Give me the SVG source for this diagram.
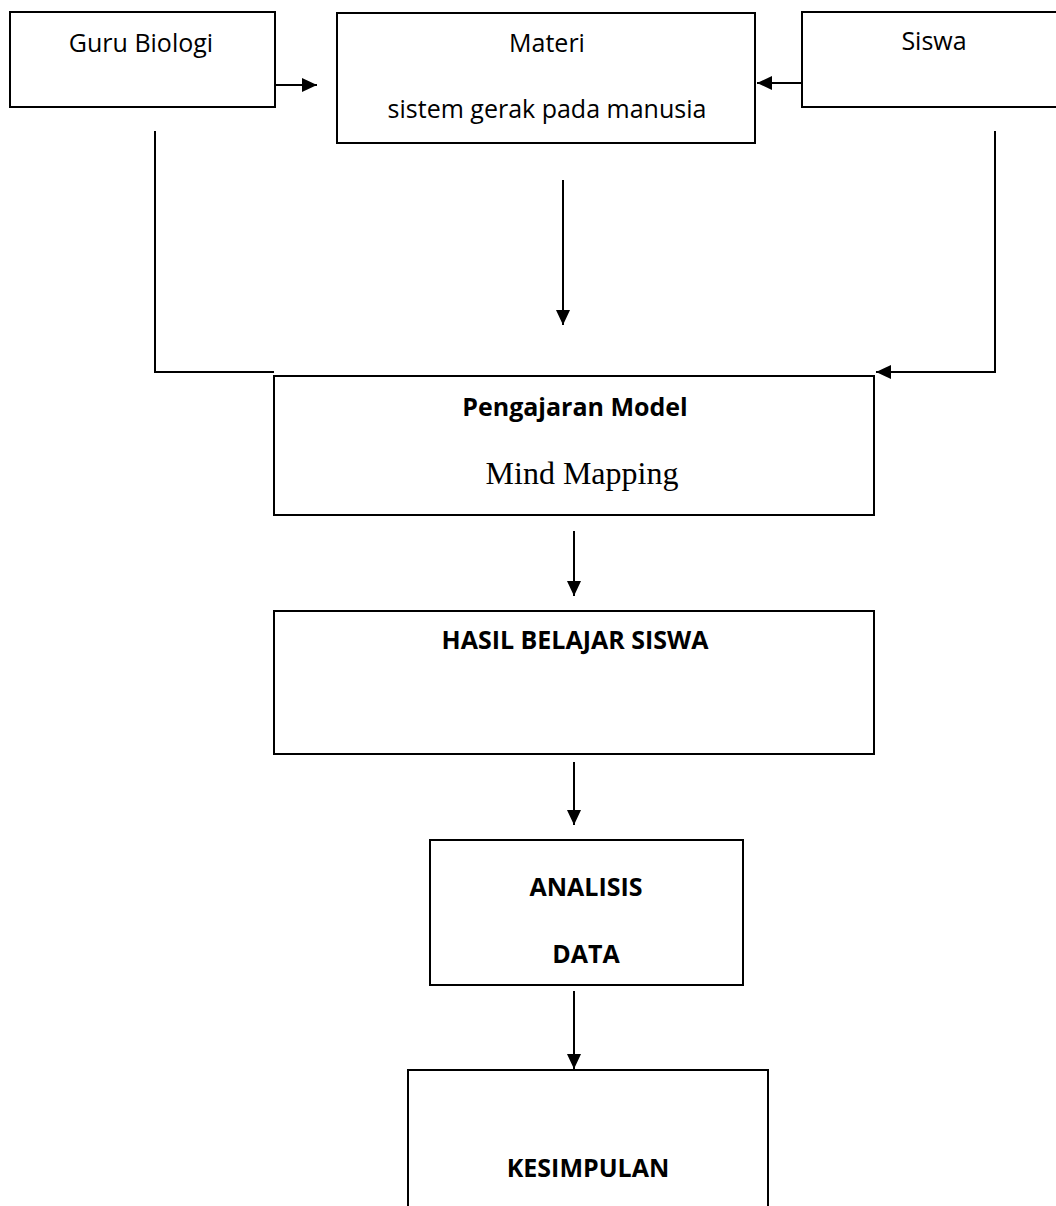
<svg xmlns="http://www.w3.org/2000/svg" width="1056" height="1206" viewBox="0 0 1056 1206">
  <style>
    .box { fill: #ffffff; stroke: #000000; stroke-width: 2; }
    .conn { fill: none; stroke: #000000; stroke-width: 2; }
    .t { font-family: "Open Sans", "Noto Sans", sans-serif; font-size: 25px; fill: #000000; text-anchor: middle; }
    .b { font-weight: bold; }
    .serif { font-family: "Liberation Serif", "Times New Roman", serif; font-size: 32px; }
  </style>
  <defs>
    <marker id="arrow" markerUnits="userSpaceOnUse" markerWidth="15" markerHeight="14" refX="15" refY="7" orient="auto">
      <path d="M0,0 L15,7 L0,14 z" fill="#000000"/>
    </marker>
  </defs>
  <rect x="0" y="0" width="1056" height="1206" fill="#ffffff"/>

  <g id="guru">
    <rect class="box" x="10" y="12" width="265" height="95"/>
    <text class="t" x="141" y="52">Guru Biologi</text>
  </g>
  <g id="materi">
    <rect class="box" x="337" y="13" width="418" height="130"/>
    <text class="t" x="547" y="52">Materi</text>
    <text class="t" x="547" y="118">sistem gerak pada manusia</text>
  </g>
  <g id="siswa">
    <rect class="box" x="802" y="12" width="264" height="95"/>
    <text class="t" x="934" y="50">Siswa</text>
  </g>
  <g id="pengajaran">
    <rect class="box" x="274" y="376" width="600" height="139"/>
    <text class="t b" x="575" y="416">Pengajaran Model</text>
    <text class="t serif" x="582" y="484">Mind Mapping</text>
  </g>
  <g id="hasil">
    <rect class="box" x="274" y="611" width="600" height="143"/>
    <text class="t b" x="575" y="649">HASIL BELAJAR SISWA</text>
  </g>
  <g id="analisis">
    <rect class="box" x="430" y="840" width="313" height="145"/>
    <text class="t b" x="586" y="896">ANALISIS</text>
    <text class="t b" x="586" y="963">DATA</text>
  </g>
  <g id="kesimpulan">
    <rect class="box" x="408" y="1070" width="360" height="150"/>
    <text class="t b" x="588" y="1177">KESIMPULAN</text>
  </g>

  <g id="connectors">
    <line class="conn" x1="275" y1="85" x2="317" y2="85" marker-end="url(#arrow)"/>
    <line class="conn" x1="802" y1="83" x2="757" y2="83" marker-end="url(#arrow)"/>
    <line class="conn" x1="563" y1="180" x2="563" y2="325" marker-end="url(#arrow)"/>
    <polyline class="conn" points="155,131 155,372 274,372"/>
    <polyline class="conn" points="995,131 995,372 876,372" marker-end="url(#arrow)"/>
    <line class="conn" x1="574" y1="531" x2="574" y2="596" marker-end="url(#arrow)"/>
    <line class="conn" x1="574" y1="762" x2="574" y2="825" marker-end="url(#arrow)"/>
    <line class="conn" x1="574" y1="991" x2="574" y2="1069" marker-end="url(#arrow)"/>
  </g>
</svg>
